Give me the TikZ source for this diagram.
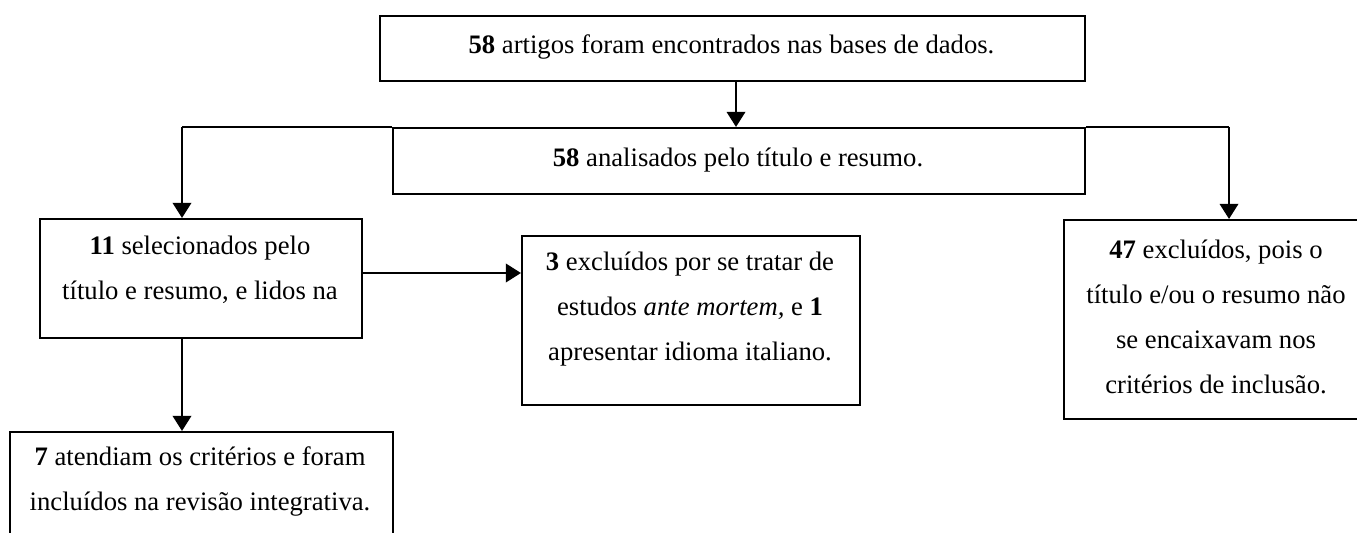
\documentclass[tikz,border=0pt]{standalone}
\usepackage{fontspec}
\setmainfont{Liberation Serif}
\usetikzlibrary{arrows.meta}
\tikzset{
  box/.style={draw=black, line width=0.9pt, inner sep=0pt, anchor=north west},
  txt/.style={align=center, inner sep=0pt, font=\fontsize{12}{20.3}\selectfont},
  arr/.style={line width=1.3pt, -{Triangle[length=6.8pt,width=8.2pt]}},
  link/.style={line width=1pt},
}
\begin{document}
\begin{tikzpicture}[x=0.45pt,y=-0.45pt]
\useasboundingbox (0,0) rectangle (1357,533);
\clip (0,0) rectangle (1357,533);
% boxes
\node[box, minimum width=317.25pt, minimum height=29.25pt] (top) at (379,15) {};
\node[box, minimum width=311.4pt, minimum height=29.7pt] (sec) at (392,127) {};
\node[box, minimum width=144.9pt, minimum height=53.55pt] (lb) at (39,218) {};
\node[box, minimum width=152.1pt, minimum height=76.05pt] (mb) at (521,235) {};
\node[box, minimum width=137.7pt, minimum height=89.55pt] (rb) at (1063,219) {};
\node[box, minimum width=172.35pt, minimum height=67.5pt] (bb) at (9,431) {};
% texts
\node[txt] (ttop) at (731.5,47) {\textbf{58} artigos foram encontrados nas bases de dados.};
\node[txt] (tsec) at (738,160) {\textbf{58} analisados pelo título e resumo.};
\node[txt] (tlb) at (200,269.5) {\textbf{11} selecionados pelo\\título e resumo, e lidos na};
\node[txt] (tmb) at (690,309) {\textbf{3} excluídos por se tratar de\\estudos \textit{ante mortem,} e \textbf{1}\\apresentar idioma italiano.};
\node[txt] (trb) at (1216,317) {\textbf{47} excluídos, pois o\\título e/ou o resumo não\\se encaixavam nos\\critérios de inclusão.};
\node[txt] (tbb) at (200,481.5) {\textbf{7} atendiam os critérios e foram\\incluídos na revisão integrativa.};
% helper coordinates
\coordinate (cx) at (736,0);
\coordinate (lx) at (182,0);
\coordinate (rx) at (1229,0);
\coordinate (hy) at (0,273);
% connectors
\draw[arr] (top.south -| cx) -- (sec.north -| cx);
\draw[link] (sec.north west) -- (sec.north west -| lx);
\draw[arr] (sec.north west -| lx) -- (lb.north -| lx);
\draw[link] (sec.north east) -- (sec.north east -| rx);
\draw[arr] (sec.north east -| rx) -- (rb.north -| rx);
\draw[arr] (lb.east |- hy) -- (mb.west |- hy);
\draw[arr] (lb.south -| lx) -- (bb.north -| lx);
\end{tikzpicture}
\end{document}
